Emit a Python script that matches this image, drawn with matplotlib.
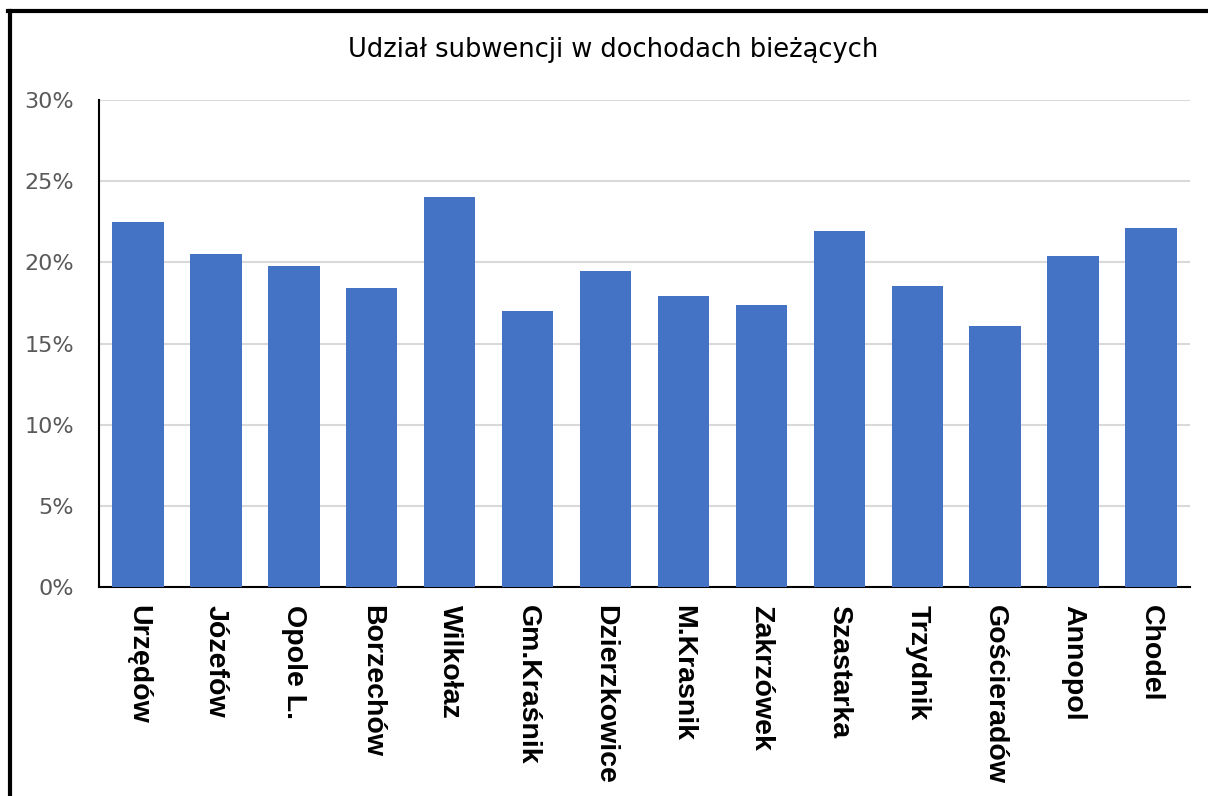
import matplotlib.pyplot as plt
from matplotlib.lines import Line2D
from matplotlib.ticker import PercentFormatter

# dane
gminy = ["Urzędów", "Józefów", "Opole L.", "Borzechów", "Wilkołaz", "Gm.Kraśnik",
         "Dzierzkowice", "M.Krasnik", "Zakrzówek", "Szastarka", "Trzydnik",
         "Gościeradów", "Annopol", "Chodel"]
udzial = [22.5, 20.5, 19.8, 18.4, 24.0, 17.0, 19.45, 17.9, 17.4, 21.9, 18.55,
          16.05, 20.4, 22.1]
tytul = "Udział subwencji w dochodach bieżących"

fig = plt.figure(figsize=(12.08, 7.96), dpi=100)
ax = fig.add_axes([99 / 1208, 1 - 587 / 796, (1190 - 99) / 1208, (587 - 100) / 796])

x = range(len(gminy))
ax.bar(x, udzial, width=0.66, color="#4472C4", zorder=3)

ax.set_xlim(-0.5, len(gminy) - 0.5)
ax.set_ylim(0, 30)
ax.set_yticks(range(0, 31, 5))
ax.yaxis.set_major_formatter(PercentFormatter(decimals=0))
ax.grid(axis="y", color="#D9D9D9", lw=1.5, zorder=0)

ax.set_xticks(list(x))
ax.set_xticklabels(gminy, rotation=-90, fontsize=20.5, fontweight="bold",
                   family="Liberation Sans", va="top", ha="center")
ax.tick_params(axis="x", length=0, pad=13)
ax.tick_params(axis="y", length=0, pad=18, labelsize=16, labelcolor="#595959")

for s in ["top", "right"]:
    ax.spines[s].set_visible(False)
ax.spines["left"].set_linewidth(1.5)
ax.spines["bottom"].set_linewidth(1.5)

fig.text(0.508, 1 - 50 / 796, tytul, ha="center", va="center", fontsize=18.5)

# ramka
fig.add_artist(Line2D([9.5 / 1208, 9.5 / 1208], [0, 1 - 10.5 / 796], color="black", lw=3))
fig.add_artist(Line2D([8 / 1208, 1], [1 - 10.5 / 796, 1 - 10.5 / 796], color="black", lw=3))

fig.savefig("out.png", dpi=100)
